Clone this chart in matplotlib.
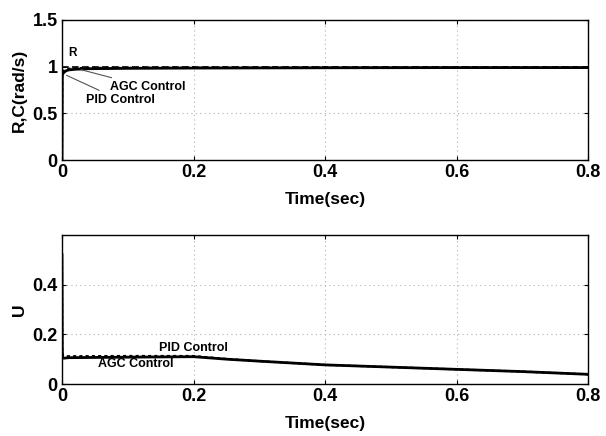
import matplotlib
matplotlib.use("Agg")
import matplotlib.pyplot as plt

plt.rcParams['font.family'] = ['Liberation Sans', 'DejaVu Sans']
plt.rcParams['font.weight'] = 'bold'

# top panel data
t_r = [0.0, 0.8]
r_vals = [1.0, 1.0]
t_c = [0.0, 0.0004, 0.001, 0.003, 0.006, 0.01, 0.02, 0.04, 0.1, 0.2, 0.4, 0.6, 0.8]
c_pid = [0.0, 0.90, 0.92, 0.94, 0.955, 0.965, 0.972, 0.978, 0.982, 0.985, 0.988, 0.99, 0.99]
c_agc = [0.0, 0.92, 0.94, 0.96, 0.97, 0.978, 0.984, 0.987, 0.988, 0.989, 0.99, 0.99, 0.99]

# bottom panel data
t_u = [0.0, 0.0004, 0.001, 0.003, 0.01, 0.1, 0.2, 0.25, 0.3, 0.4, 0.5, 0.6, 0.7, 0.8]
u_pid = [0.52, 0.14, 0.105, 0.104, 0.106, 0.108, 0.110, 0.100, 0.092, 0.077, 0.068, 0.059, 0.050, 0.039]
u_agc = [0.50, 0.15, 0.115, 0.112, 0.112, 0.113, 0.113, 0.101, 0.092, 0.077, 0.068, 0.059, 0.050, 0.039]

x_ticks = [0, 0.2, 0.4, 0.6, 0.8]
x_ticklabels = ['0', '0.2', '0.4', '0.6', '0.8']
y1_ticks = [0, 0.5, 1, 1.5]
y1_ticklabels = ['0', '0.5', '1', '1.5']
y2_ticks = [0, 0.2, 0.4]
y2_ticklabels = ['0', '0.2', '0.4']

fig = plt.figure(figsize=(6.06, 4.36), dpi=100)
W, H = 606, 436
ax1 = fig.add_axes([62 / W, 1 - 160 / H, 526 / W, 140 / H])
ax2 = fig.add_axes([62 / W, 1 - 384 / H, 526 / W, 149 / H])

fs = 13
for ax in (ax1, ax2):
    ax.set_xlim(0, 0.8)
    ax.set_xticks(x_ticks)
    ax.set_xticklabels(x_ticklabels, fontsize=fs, fontweight='bold')
    ax.tick_params(direction='in', length=3, width=0.8, top=True, right=True, pad=3)
    ax.grid(True, linestyle=(0, (1, 3)), color='#b0b0b0', linewidth=0.8)
    for s in ax.spines.values():
        s.set_linewidth(1.0)
    ax.set_xlabel('Time(sec)', fontsize=12.5, fontweight='bold', labelpad=8)

# top
ax1.plot(t_r, r_vals, color='k', linestyle=(0, (4, 2)), linewidth=1.2)
ax1.plot(t_c, c_agc, color='k', linestyle=(0, (1.5, 1.5)), linewidth=1.5)
ax1.plot(t_c, c_pid, color='k', linestyle='-', linewidth=2.0)
ax1.set_ylim(0, 1.5)
ax1.set_yticks(y1_ticks)
ax1.set_yticklabels(y1_ticklabels, fontsize=fs, fontweight='bold')
ax1.set_ylabel('R,C(rad/s)', fontsize=12.5, fontweight='bold', labelpad=4)
ax1.text(0.016, 1.08, 'R', fontsize=8.5, fontweight='bold', ha='center', va='bottom')
ax1.annotate('AGC Control', xy=(0.025, 0.975), xytext=(0.073, 0.78),
             fontsize=9, fontweight='bold', ha='left', va='center',
             arrowprops=dict(arrowstyle='-', color='#555555', lw=0.8))
ax1.annotate('PID Control', xy=(0.003, 0.92), xytext=(0.037, 0.64),
             fontsize=9, fontweight='bold', ha='left', va='center',
             arrowprops=dict(arrowstyle='-', color='#555555', lw=0.8))

# bottom
ax2.plot(t_u, u_agc, color='k', linestyle=(0, (1.5, 1.5)), linewidth=1.5)
ax2.plot(t_u, u_pid, color='k', linestyle='-', linewidth=2.0)
ax2.set_ylim(0, 0.6)
ax2.set_yticks(y2_ticks)
ax2.set_yticklabels(y2_ticklabels, fontsize=fs, fontweight='bold')
ax2.set_ylabel('U', fontsize=12.5, fontweight='bold', labelpad=4)
ax2.text(0.148, 0.143, 'PID Control', fontsize=9, fontweight='bold', ha='left', va='center')
ax2.text(0.055, 0.082, 'AGC Control', fontsize=9, fontweight='bold', ha='left', va='center')

fig.savefig('out.png', dpi=100)
